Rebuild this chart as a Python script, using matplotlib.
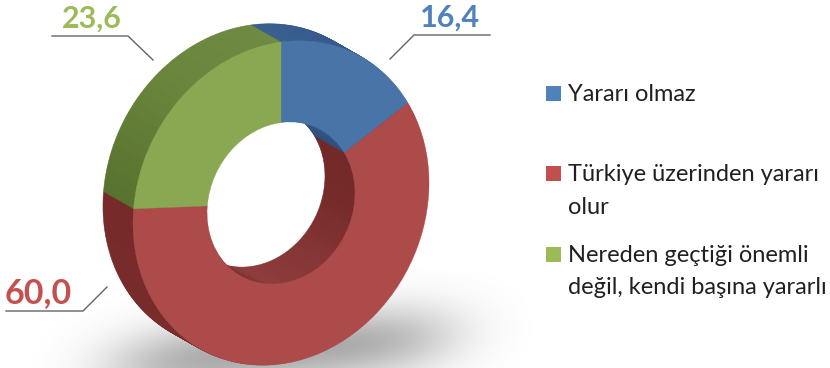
import numpy as np
import matplotlib
matplotlib.use("Agg")
import matplotlib.pyplot as plt
from matplotlib.patches import Wedge, Rectangle
from matplotlib.transforms import Affine2D
from matplotlib.colors import to_rgb

# --- data ---
categories = ["Yararı olmaz", "Türkiye üzerinden yararı\nolur", "Nereden geçtiği önemli\ndeğil, kendi başına yararlı"]
values = [16.4, 60.0, 23.6]
value_labels = ["16,4", "60,0", "23,6"]

# --- styles ---
top_colors = ["#4874a8", "#ad4a4a", "#8aa752"]
legend_colors = ["#4f81bd", "#c0504d", "#9bbb59"]
label_colors = ["#4f81bd", "#c4504f", "#9bbb59"]
# wall colour stops: (angle in degrees, colour)
wall_stops = [
    [(31, "#2f5078"), (60, "#35598a"), (90, "#3a6090")],
    [(175, "#762a2a"), (235, "#782c2c"), (262, "#8f3e3e"), (310, "#843535"), (350, "#762a2a"), (391, "#742929")],
    [(90, "#6f8a42"), (130, "#6a853c"), (175, "#58722f")],
]
FONT = "Lato"

W, H = 830, 368
fig = plt.figure(figsize=(W / 100, H / 100), dpi=100)
ax = fig.add_axes([0, 0, 1, 1])
ax.set_xlim(0, W)
ax.set_ylim(H, 0)
ax.axis("off")

# soft floor shadow
xx, yy = np.meshgrid(np.linspace(0, W, 415), np.linspace(270, H, 50))
a = np.exp(-(np.abs(xx - 280) / 170) ** 4 - ((yy - 352 + (xx - 280) * 0.10) / 36) ** 2) * 0.5
rgba = np.zeros(a.shape + (4,))
rgba[..., :3] = 0.33
rgba[..., 3] = a
ax.imshow(rgba, extent=(0, W, H, 270), aspect="auto", zorder=0, interpolation="bilinear")
ax.set_xlim(0, W)
ax.set_ylim(H, 0)


def face(dx=0.0, dy=0.0):
    # unit circle -> sheared ellipse in pixel coordinates
    m = np.array([[148.0, 0.0, 281.0 + dx], [-20.0, -161.0, 203.0 + dy], [0, 0, 1]])
    return Affine2D(m) + ax.transData


# wedge angles, clockwise from 12 o'clock: blue 31..90, red 175..391, green 90..175
shares = np.array(values) / sum(values) * 360
cum = np.concatenate([[0], np.cumsum(shares)])
spans = []
for i in range(len(values)):
    a1 = 90 - cum[i]
    a0 = 90 - cum[i + 1]
    if a0 < 0:
        a0 += 360
    if a1 < a0:
        a1 += 360
    spans.append((a0, a1))


def wall_color(i, th):
    stops = wall_stops[i]
    ang = [s[0] for s in stops]
    cols = np.array([to_rgb(s[1]) for s in stops])
    return tuple(np.interp(th, ang, cols[:, k]) for k in range(3))


# extruded wall: stacked layers, back to front
z = 1
for t in np.linspace(1, 0.0, 36)[:-1]:
    for i, (a0, a1) in enumerate(spans):
        edges = np.arange(a0, a1, 4.0).tolist() + [a1]
        for b0, b1 in zip(edges[:-1], edges[1:]):
            c = wall_color(i, (b0 + b1) / 2)
            ax.add_patch(Wedge((0, 0), 1.0, b0, b1, width=0.5, facecolor=c, edgecolor=c,
                               linewidth=0.4, transform=face(-30 * t, -17 * t), zorder=z))
    z += 0.01

# top face
for (a0, a1), col in zip(spans, top_colors):
    ax.add_patch(Wedge((0, 0), 1.0, a0, a1, width=0.5, facecolor=col, edgecolor=col,
                       linewidth=0.3, transform=face(), zorder=5))

# leader lines
leaders = [([490, 414, 390], [35, 35, 59]),
           ([6, 83, 107], [311, 311, 287]),
           ([52, 128, 153], [36, 36, 60])]
for xs, ys in leaders:
    ax.plot(xs, ys, color="#636466", lw=1.0, zorder=6, solid_joinstyle="miter")

# value labels
label_pos = [(420, 27), (5, 303), (62, 28)]
label_sizes = [22, 24.5, 22]
for txt, (x, y), c, fs in zip(value_labels, label_pos, label_colors, label_sizes):
    ax.text(x, y, txt, color=c, fontsize=fs, fontweight="bold", family=FONT,
            ha="left", va="baseline", zorder=7)

# legend
square_y = [86, 166, 247]
base_y = [[101], [181, 214], [262, 294]]
for cat, col, sy, bys in zip(categories, legend_colors, square_y, base_y):
    ax.add_patch(Rectangle((546, sy), 15, 15, facecolor=col, edgecolor="none", zorder=6))
    for line, by in zip(cat.split("\n"), bys):
        ax.text(568, by, line, color="#231f20", fontsize=17, family=FONT,
                ha="left", va="baseline", zorder=7)

fig.savefig("out.png", dpi=100)
